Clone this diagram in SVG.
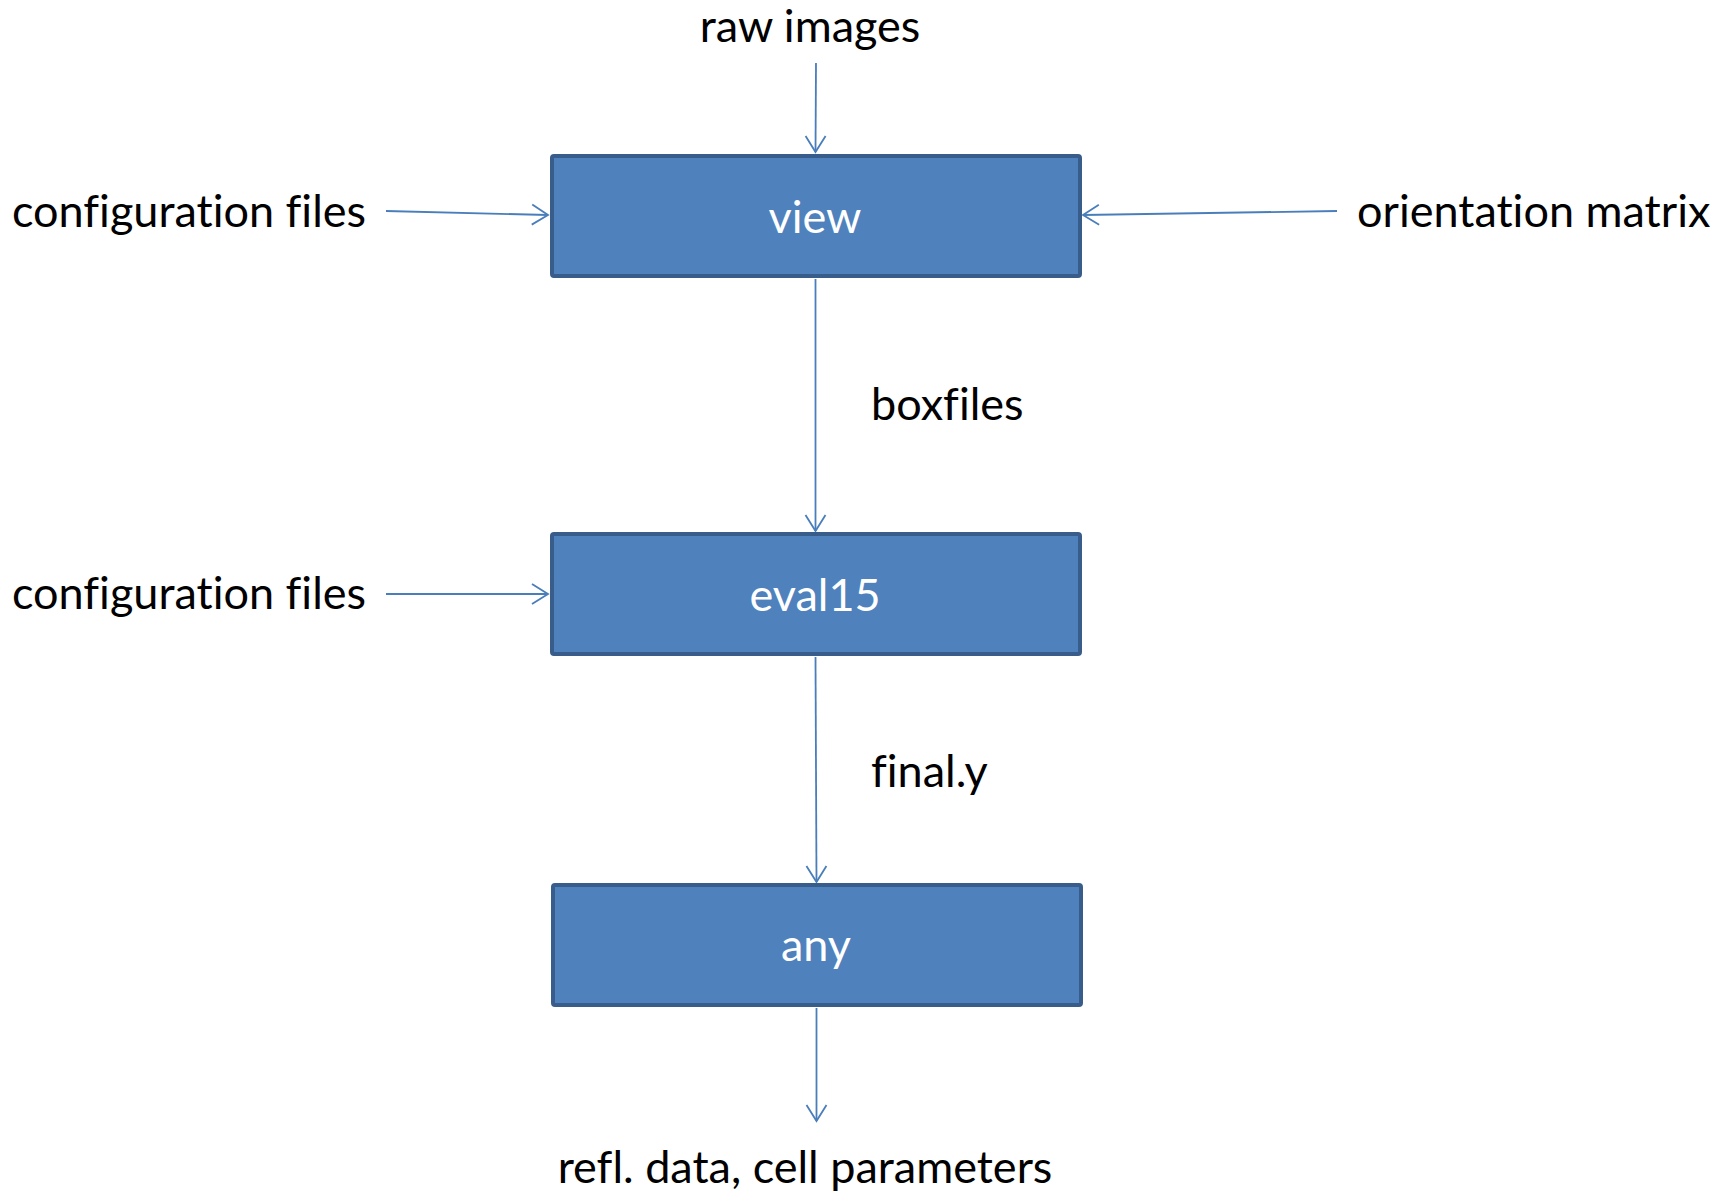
<svg xmlns="http://www.w3.org/2000/svg" width="1716" height="1192" viewBox="0 0 1716 1192">
  <style>
    .lbl { font-family: Lato, "Liberation Sans", sans-serif; font-size: 45px; fill: #000; font-variant-ligatures: none; }
    .nodeText { font-family: Lato, "Liberation Sans", sans-serif; font-size: 45px; fill: #fff; text-anchor: middle; font-variant-ligatures: none; }
    .box { fill: #4F81BD; stroke: #385D8A; stroke-width: 4; }
    .conn { fill: none; stroke: #4A7EBB; stroke-width: 1.8; marker-end: url(#open); }
  </style>
  <defs>
    <marker id="open" markerUnits="userSpaceOnUse" markerWidth="24" markerHeight="24" viewBox="-18 -12 20 24" refX="0" refY="0" orient="auto">
      <path d="M-16,-10 L0,0 L-16,10" fill="none" stroke="#4A7EBB" stroke-width="1.8"/>
    </marker>
  </defs>
  <rect width="1716" height="1192" fill="#fff"/>

  <g id="connectors">
    <line class="conn" x1="816" y1="63" x2="815.5" y2="152"/>
    <line class="conn" x1="386" y1="211" x2="548" y2="215"/>
    <line class="conn" x1="1337" y1="211" x2="1083" y2="215"/>
    <line class="conn" x1="815.5" y1="279" x2="815.5" y2="531"/>
    <line class="conn" x1="386" y1="594" x2="548" y2="594"/>
    <line class="conn" x1="815.5" y1="657" x2="816.5" y2="882"/>
    <line class="conn" x1="816.5" y1="1008" x2="816.5" y2="1121"/>
  </g>

  <g id="labels">
    <text class="lbl" x="810" y="42" text-anchor="middle">raw images</text>
    <text class="lbl" x="12" y="227">configuration files</text>
    <text class="lbl" x="1357" y="227">orientation matrix</text>
    <text class="lbl" x="871" y="420">boxfiles</text>
    <text class="lbl" x="12" y="609">configuration files</text>
    <text class="lbl" x="871" y="787">final.y</text>
    <text class="lbl" x="805" y="1183" text-anchor="middle">refl. data, cell parameters</text>
  </g>

  <g id="node-view">
    <rect class="box" x="552" y="156" width="528" height="120" rx="2"/>
    <text class="nodeText" x="815" y="233">view</text>
  </g>
  <g id="node-eval15">
    <rect class="box" x="552" y="534" width="528" height="120" rx="2"/>
    <text class="nodeText" x="815" y="611">eval15</text>
  </g>
  <g id="node-any">
    <rect class="box" x="553" y="885" width="528" height="120" rx="2"/>
    <text class="nodeText" x="816" y="961">any</text>
  </g>
</svg>
